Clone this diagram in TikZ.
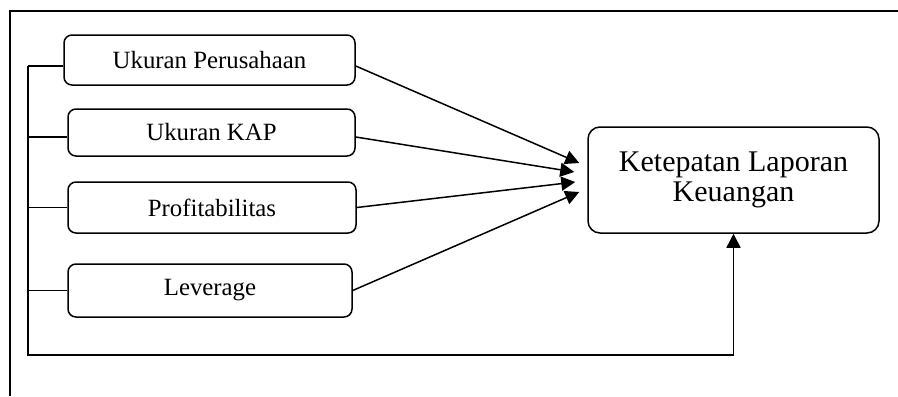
\documentclass[tikz,border=0pt]{standalone}
\usepackage{fontspec}
\setmainfont{Liberation Serif}
\usepackage{tikz}
\usetikzlibrary{arrows.meta,positioning,calc}

\begin{document}
\begin{tikzpicture}[x=0.5pt, y=-0.5pt, line width=0.75pt]
\tikzstyle{variabel} = [rectangle, rounded corners=4pt, inner sep=0pt, text centered, draw=black, font=\fontsize{12.4}{15}\selectfont]
\tikzstyle{terikat} = [rectangle, rounded corners=6pt, inner sep=0pt, align=center, draw=black, minimum width=145.5pt, minimum height=53pt, font=\fontsize{15}{17}\selectfont]
\tikzstyle{arrow} = [-{Triangle[length=7pt,width=7pt]}]

\useasboundingbox (0,0) rectangle (898,396);

% bingkai
\draw (898,11) -- (10,11) -- (10,396);

\node (peru) [variabel, minimum width=145.5pt, minimum height=25pt] at (209.5,60) {Ukuran Perusahaan};
\node (kap) [variabel, minimum width=143.5pt, minimum height=23.5pt] at (211.5,132.5) {Ukuran KAP};
\node (profit) [variabel, minimum width=144pt, minimum height=25.5pt] at (212,207.5) {Profitabilitas};
\node (lev) [variabel, minimum width=142pt, minimum height=26.5pt] at (210,290.5) {Leverage};

\node (laporan) [terikat] at (733.5,180) {\raisebox{3pt}{\shortstack{Ketepatan Laporan\\[-1pt]Keuangan}}};

\coordinate (bustop) at (28,66);
\coordinate (busbot) at (28,355);

% garis kiri
\draw (bustop) -- ([yshift=-3pt]peru.west);
\draw ([yshift=-2.25pt]kap.west) -- ([yshift=-2.25pt]kap.west -| bustop);
\draw (profit.west) -- (profit.west -| bustop);
\draw (lev.west) -- (lev.west -| bustop);
\draw [arrow] (bustop) -- (busbot) -| (laporan.south);

% panah ke variabel terikat
\draw [arrow] ([yshift=-3pt]peru.east) -- ([xshift=-4pt,yshift=8.5pt]laporan.west);
\draw [arrow] ([yshift=-2.25pt]kap.east) -- ([xshift=-6.5pt,yshift=4pt]laporan.west);
\draw [arrow] (profit.east) -- ([xshift=-6pt,yshift=-1pt]laporan.west);
\draw [arrow] (lev.east) -- ([xshift=-4pt,yshift=-6pt]laporan.west);
\end{tikzpicture}
\end{document}
